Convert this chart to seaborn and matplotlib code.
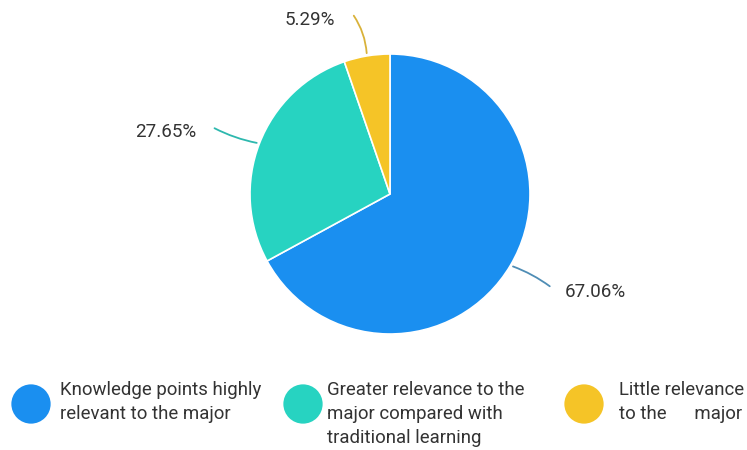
import numpy as np
import matplotlib
matplotlib.use("Agg")
import matplotlib.pyplot as plt
import seaborn as sns

# Data
categories = ["Knowledge points highly\nrelevant to the major",
              "Greater relevance to the\nmajor compared with\ntraditional learning",
              "Little relevance\nto the      major"]
shares = [67.06, 27.65, 5.29]
pct_labels = ["67.06%", "27.65%", "5.29%"]

sns.set_theme(style="white")
plt.rcParams['font.family'] = ['Roboto', 'DejaVu Sans']
palette = sns.color_palette(["#1A8FF0", "#27D3C1", "#F5C427"])
line_colors = ["#4F8DB5", "#2DB8AE", "#D9B23A"]

fig = plt.figure(figsize=(7.47, 4.5), dpi=100)
fig.patch.set_facecolor("white")

# pie axes: centre (390,194) px, radius 140 px
cx, cy, r = 390, 194, 140
ax = fig.add_axes([(cx - r) / 747, 1 - (cy + r) / 450, 2 * r / 747, 2 * r / 450])
wedges, _ = ax.pie(shares, colors=palette, startangle=90, counterclock=False,
                   radius=1, wedgeprops=dict(edgecolor="white", linewidth=1.2))
ax.set_xlim(-1, 1)
ax.set_ylim(-1, 1)
ax.set_aspect("equal")
ax.axis("off")

# label offsets (in pie radii) for each slice
text_xy = [(1.47, -0.70), (-1.60, 0.44), (-0.57, 1.24)]
line_end = [(1.157, -0.671), (-1.271, 0.479), (-0.27, 1.29)]
rads = [0.08, 0.08, -0.15]
for w, lab, txy, lend, lc, rad in zip(wedges, pct_labels, text_xy, line_end, line_colors, rads):
    ang = np.deg2rad((w.theta1 + w.theta2) / 2)
    p = (np.cos(ang), np.sin(ang))
    ax.annotate("", xy=p, xytext=lend,
                arrowprops=dict(arrowstyle="-", color=lc, lw=1.3,
                                connectionstyle=f"arc3,rad={rad}"),
                annotation_clip=False)
    ax.text(txy[0], txy[1], lab, ha="center", va="center", fontsize=13.5,
            color="#333333", clip_on=False)

# legend drawn in pixel coordinates
lg = fig.add_axes([0, 0, 1, 90 / 450])
lg.set_xlim(0, 747)
lg.set_ylim(450, 360)
lg.axis("off")
marker_x = [31, 303, 584]
text_x = [60, 327, 619]
for mx, tx, lab, col in zip(marker_x, text_x, categories, palette):
    lg.scatter([mx], [404], s=800, color=col, edgecolor="none")
    lg.text(tx, 381, lab, ha="left", va="top", fontsize=13.4,
            color="#333333", linespacing=1.42)

fig.savefig("out.png", dpi=100, facecolor="white")
